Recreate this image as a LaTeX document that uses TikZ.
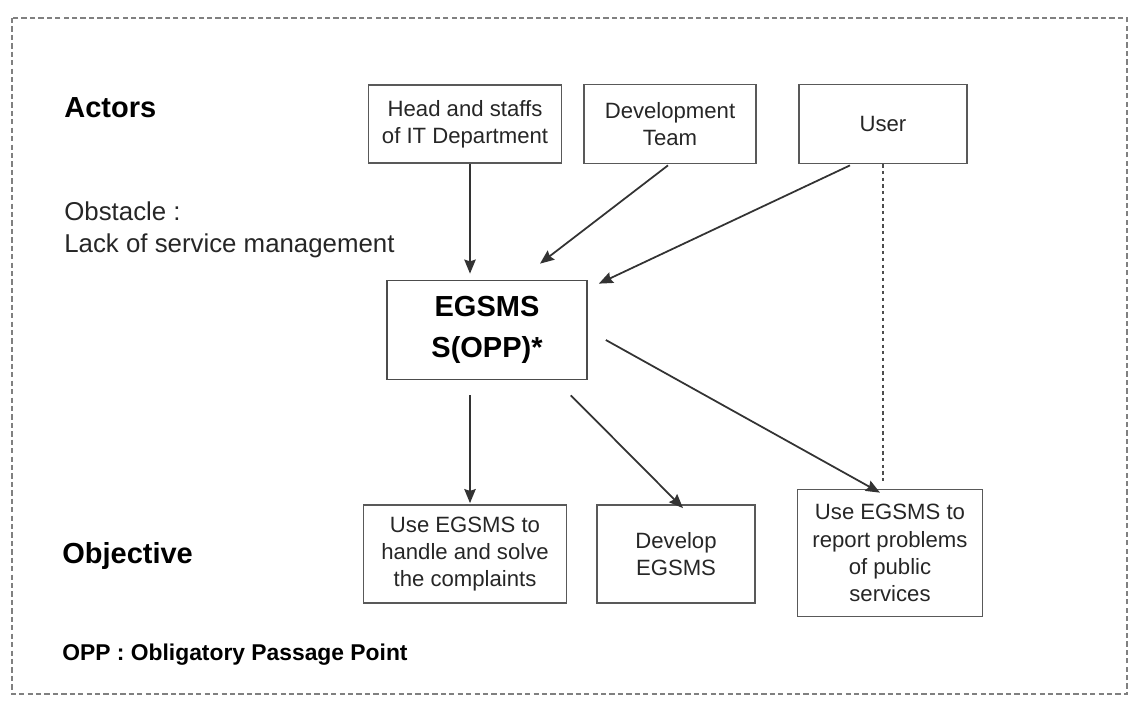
\documentclass[tikz,border=0pt]{standalone}
\usepackage{fontspec}
\setmainfont{Liberation Sans}
\usetikzlibrary{arrows.meta,calc,positioning}

\begin{document}
\begin{tikzpicture}[x=0.02cm, y=-0.02cm,
  actorbox/.style = {draw=black!65, line width=1pt, align=center, inner sep=2pt, text=black!85, font=\fontsize{12.6}{15.5}\selectfont},
  oppbox/.style = {actorbox, draw=black!70, text=black, font=\fontsize{16.5}{23}\selectfont\bfseries},
  heading/.style = {anchor=base west, inner sep=0pt, font=\fontsize{16.5}{20}\selectfont\bfseries},
  link/.style = {-{Stealth[length=8pt, width=6.5pt, inset=1pt]}, line width=1pt, black!80}]

  \useasboundingbox (0,0) rectangle (1130,704);
  \draw[black!50, line width=1.3pt, dash pattern=on 3pt off 1.8pt] (12,18) rectangle (1127,694);

  % actors
  \node [actorbox, minimum width=3.86cm, minimum height=1.56cm] (headn) at (465,124) {Head and staffs\\of IT Department};
  \node [actorbox, minimum width=3.44cm, minimum height=1.58cm] (devteamn) at (670,124) {Development\\Team};
  \node [actorbox, minimum width=3.36cm, minimum height=1.58cm] (usern) at (883,124) {User};

  \node [oppbox, minimum width=4.0cm, minimum height=1.98cm] (egsmsn) at (487,330) {EGSMS\\S(OPP)*};

  % objectives
  \node [actorbox, minimum width=4.06cm, minimum height=1.96cm] (handlen) at (465,554) {Use EGSMS to\\handle and solve\\the complaints};
  \node [actorbox, minimum width=3.16cm, minimum height=1.96cm] (developn) at (676,554) {Develop\\EGSMS};
  \node [actorbox, minimum width=3.7cm, minimum height=2.54cm] (reportn) at (890,553) {Use EGSMS to\\report problems\\of public\\services};

  \node [heading] (actorst) at (64,117) {Actors};
  \node [anchor=base west, inner sep=0pt, align=left, text=black!85, font=\fontsize{14.7}{17.8}\selectfont] (obstaclet) at (64,252) {Obstacle :\\Lack of service management};
  \node [heading] (objectivet) at (62,563) {Objective};
  \node [anchor=base west, inner sep=0pt, font=\fontsize{13}{16}\selectfont\bfseries] (oppt) at (62,660) {OPP : Obligatory Passage Point};

  \draw[link] ($(headn.south)+(5,0)$) -- ($(egsmsn.north)+(-17,-6)$);
  \draw[link] ($(devteamn.south)+(-2,1)$) -- ($(egsmsn.north)+(53,-16)$);
  \draw[link] ($(usern.south)+(-33,1)$) -- ($(egsmsn.north east)+(11,4)$);

  \draw[link] ($(egsmsn.south)+(-17,15)$) -- ($(handlen.north)+(5,-1)$);
  \draw[link] ($(egsmsn.south east)+(-17,15)$) -- ($(developn.north)+(7,4)$);
  \draw[link] ($(egsmsn.east)+(18,10)$) -- ($(reportn.north)+(-10,4)$);

  \draw[black!70, line width=0.9pt, dash pattern=on 1.8pt off 2pt, shorten >=3.5pt] (usern.south) -- (usern.south |- reportn.north) ;
\end{tikzpicture}
\end{document}
